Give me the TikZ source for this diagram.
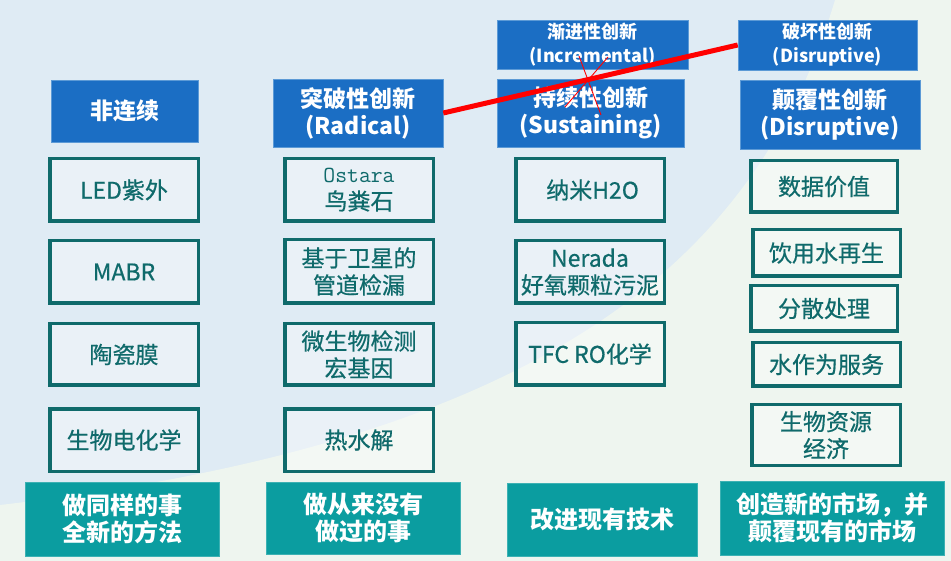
\documentclass[tikz,border=0pt]{standalone}
\usepackage{fontspec}
\setmainfont{Noto Sans CJK SC}
\newfontfamily\medfont[FakeBold=0.6]{Noto Sans CJK SC}
\definecolor{bgblue}{HTML}{DFEBF4}
\definecolor{bglight}{HTML}{EEF5EF}
\definecolor{hdrblue}{HTML}{1B6EC4}
\definecolor{hdredge}{HTML}{5C9AD6}
\definecolor{tealdark}{HTML}{0F6A6B}
\definecolor{tealfill}{HTML}{0B9DA0}
\tikzset{
  hdr/.style={fill=hdrblue, draw=hdredge, line width=0.6pt, text=white, inner sep=0pt,
    align=center, font=\bfseries\fontsize{23}{27}\selectfont},
  tophdr/.style={hdr, font=\bfseries\fontsize{18}{24}\selectfont},
  itembox/.style={draw=tealdark, line width=3.5pt, fill=white, fill opacity=0.35, text opacity=1,
    text=tealdark, inner sep=0pt, align=center, font=\medfont\fontsize{23}{27}\selectfont},
  footbox/.style={fill=tealfill, draw=tealfill!80!white, line width=0.6pt, text=white, inner sep=0pt,
    align=center, font=\bfseries\fontsize{24}{27}\selectfont},
  redbar/.style={draw=red, line width=5pt},
  redthin/.style={draw=red, line width=0.9pt}
}
\begin{document}
\begin{tikzpicture}[x=1pt,y=-1pt]
\useasboundingbox (0,0) rectangle (951,561);
% background
\fill[bgblue] (0,0) rectangle (951,561);
\fill[bglight] (835,0) .. controls (760,250) and (560,440) .. (0,505) -- (0,561) -- (951,561) -- (951,0) -- cycle;

% top small headers
\node[tophdr, minimum width=191pt, minimum height=49pt] (incr) at (592.5,44.5) {渐进性创新\\(Incremental)};
\node[tophdr, minimum width=179pt, minimum height=50pt] (pohuai) at (827.5,45) {破坏性创新\\(Disruptive)};

% column headers
\node[hdr, minimum width=147pt, minimum height=62pt] (fei) at (124.5,111) {非连续};
\node[hdr, minimum width=170pt, minimum height=68pt] (tupo) at (358,113) {突破性创新\\(Radical)};
\node[hdr, minimum width=187pt, minimum height=68pt] (chixu) at (590.5,113) {持续性创新\\(Sustaining)};
\node[hdr, minimum width=180pt, minimum height=69pt] (dianfu) at (830,114.5) {颠覆性创新\\(Disruptive)};

% column 1
\node[itembox, minimum width=148.5pt, minimum height=62.5pt] (led) at (124,190) {LED紫外};
\node[itembox, minimum width=148.5pt, minimum height=62.5pt] (mabr) at (124,272) {MABR};
\node[itembox, minimum width=148.5pt, minimum height=61.5pt] (taoci) at (124,354.5) {陶瓷膜};
\node[itembox, minimum width=148.5pt, minimum height=62.5pt] (bioel) at (124,440) {生物电化学};

% column 2
\node[itembox, minimum width=148.5pt, minimum height=62.5pt] (ostara) at (359,190) {{\ttfamily\fontsize{23}{27}\selectfont Ostara}\\鸟粪石};
\node[itembox, minimum width=148.5pt, minimum height=63.5pt] (sat) at (359,271.5) {基于卫星的\\管道检漏};
\node[itembox, minimum width=148.5pt, minimum height=61.5pt] (micro) at (359,354.5) {微生物检测\\宏基因};
\node[itembox, minimum width=148.5pt, minimum height=62.5pt] (thermo) at (359,440) {热水解};

% column 3
\node[itembox, minimum width=148.5pt, minimum height=62.5pt] (nano) at (590,190) {\ 纳米H2O};
\node[itembox, minimum width=148.5pt, minimum height=62.5pt] (nerada) at (590,272) {Nerada\\好氧颗粒污泥};
\node[itembox, minimum width=148.5pt, minimum height=62.5pt] (tfc) at (590,354) {TFC RO化学};

% column 4
\node[itembox, minimum width=146.5pt, minimum height=51.5pt] (data) at (824,186.5) {数据价值};
\node[itembox, minimum width=147.5pt, minimum height=46.5pt] (reuse) at (826.5,253) {饮用水再生};
\node[itembox, minimum width=146.5pt, minimum height=45.5pt] (decent) at (824,308.5) {分散处理};
\node[itembox, minimum width=147.5pt, minimum height=43.5pt] (waas) at (826.5,364.5) {水作为服务};
\node[itembox, minimum width=148.5pt, minimum height=60.5pt] (bioeco) at (826,435) {生物资源\\经济};

% footers
\node[footbox, minimum width=194pt, minimum height=74pt] (f1) at (122,519) {做同样的事\\全新的方法};
\node[footbox, minimum width=194pt, minimum height=72pt] (f2) at (363,518) {做从来没有\\做过的事};
\node[footbox, minimum width=190pt, minimum height=73pt] (f3) at (602,519.5) {改进现有技术};
\node[footbox, minimum width=224pt, minimum height=74pt] (f4) at (832,518) {创造新的市场，并\\颠覆现有的市场};

% red strike lines
\draw[redbar] (tupo.east) -- (pohuai.west);
\coordinate (xa1) at (579,56);
\coordinate (xa2) at (601,115);
\coordinate (xb1) at (608,57);
\coordinate (xb2) at (565,107);
\draw[redthin] (xa1) -- (xa2);
\draw[redthin] (xb1) -- (xb2);
\end{tikzpicture}
\end{document}
